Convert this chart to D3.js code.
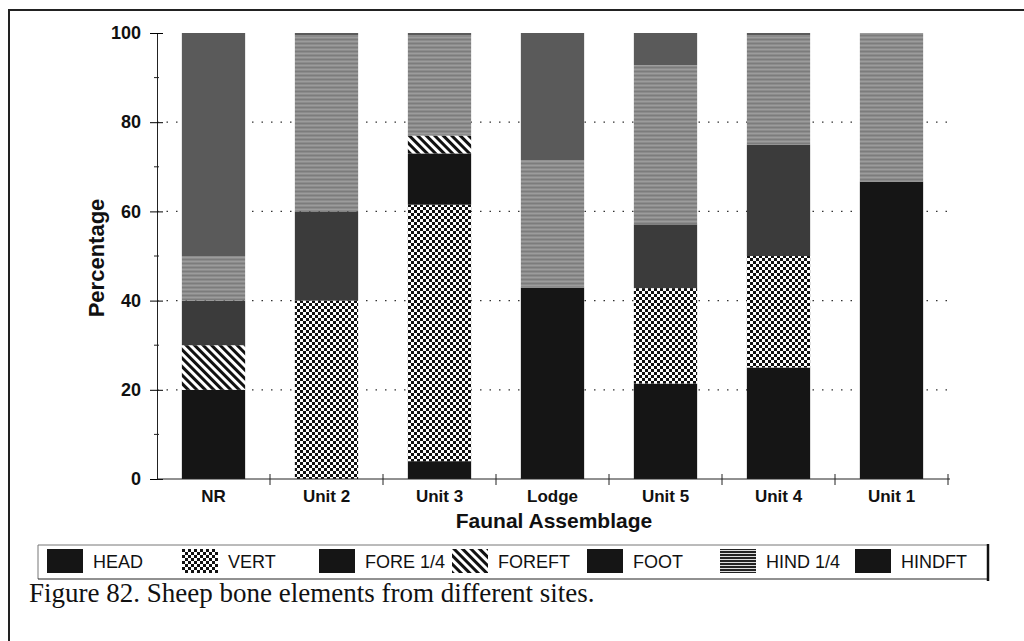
<!DOCTYPE html>
<html>
<head>
<meta charset="utf-8">
<script src="https://cdn.jsdelivr.net/npm/d3@7"></script>
<style>
  body { margin: 0; background: #fff; }
  svg { display: block; }
  .tick text { font-family: "Liberation Sans", Arial, sans-serif; }
</style>
</head>
<body>
<svg id="chart" width="1024" height="641"></svg>
<script>
// site order as on the x axis
var sites = ["NR", "Unit 2", "Unit 3", "Lodge", "Unit 5", "Unit 4", "Unit 1"];
var elements = ["HEAD", "VERT", "FORE 1/4", "FOREFT", "FOOT", "HIND 1/4", "HINDFT"];

// percentages per element, one value per site
var head   = [20,   0,   4,    42.9, 21.4, 25,   66.7];
var vert   = [0,    40,  57.5, 0,    21.4, 25,   0];
var fore   = [0,    0,   11.5, 0,    0,    0,    0];
var foreft = [10,   0,   4,    0,    0,    0,    0];
var foot   = [10,   20,  0,    0,    14.3, 25,   0];
var hind   = [10,   39.5, 22.5, 28.6, 35.7, 24.5, 33.3];
var hindft = [50,   0.5, 0.5,  28.5, 7.2,  0.5,  0];

var yTicks = [0, 20, 40, 60, 80, 100];
var yMinor = [10, 30, 50, 70, 90];
var gridTicks = [20, 40, 60, 80];

var series = [head, vert, fore, foreft, foot, hind, hindft];
var rows = sites.map(function(s, i) {
  var r = { site: s };
  elements.forEach(function(e, j) { r[e] = series[j][i]; });
  return r;
});

var svg = d3.select("#chart");
var defs = svg.append("defs");

// checker for VERT
var chk = defs.append("pattern").attr("id", "chk")
  .attr("patternUnits", "userSpaceOnUse").attr("width", 6).attr("height", 6);
chk.append("rect").attr("width", 6).attr("height", 6).attr("fill", "#fff");
chk.append("rect").attr("width", 3).attr("height", 3).attr("fill", "#111");
chk.append("rect").attr("x", 3).attr("y", 3).attr("width", 3).attr("height", 3).attr("fill", "#111");

// diagonal hatch for FOREFT
var hat = defs.append("pattern").attr("id", "hatch")
  .attr("patternUnits", "userSpaceOnUse").attr("width", 6).attr("height", 6)
  .attr("patternTransform", "rotate(-45)");
hat.append("rect").attr("width", 6).attr("height", 6).attr("fill", "#fff");
hat.append("rect").attr("width", 3).attr("height", 6).attr("fill", "#111");

// horizontal lines for HIND 1/4
var hl = defs.append("pattern").attr("id", "hlines")
  .attr("patternUnits", "userSpaceOnUse").attr("width", 8).attr("height", 4);
hl.append("rect").attr("width", 8).attr("height", 4).attr("fill", "#8c8c8c");
hl.append("rect").attr("y", 1).attr("width", 8).attr("height", 1).attr("fill", "#9c9c9c");
hl.append("rect").attr("y", 3).attr("width", 8).attr("height", 1).attr("fill", "#7c7c7c");

// legend swatch version of HIND 1/4
var hl2 = defs.append("pattern").attr("id", "hlines2")
  .attr("patternUnits", "userSpaceOnUse").attr("width", 8).attr("height", 3);
hl2.append("rect").attr("width", 8).attr("height", 3).attr("fill", "#222");
hl2.append("rect").attr("y", 1).attr("width", 8).attr("height", 1).attr("fill", "#ddd");

var fills = {
  "HEAD": "#151515", "VERT": "url(#chk)", "FORE 1/4": "#151515", "FOREFT": "url(#hatch)",
  "FOOT": "#3b3b3b", "HIND 1/4": "url(#hlines)", "HINDFT": "#5a5a5a"
};
var legendFills = {
  "HEAD": "#151515", "VERT": "url(#chk)", "FORE 1/4": "#151515", "FOREFT": "url(#hatch)",
  "FOOT": "#151515", "HIND 1/4": "url(#hlines2)", "HINDFT": "#151515"
};

var x = d3.scaleBand().domain(sites).range([157, 948])
  .paddingInner(0.44).paddingOuter(0.22);
var y = d3.scaleLinear().domain([0, 100]).range([479, 33]);

// figure frame
svg.append("path").attr("d", "M9,641V10H1024")
  .attr("fill", "none").attr("stroke", "#222").attr("stroke-width", 2);

// dotted grid
svg.append("g").selectAll("line").data(gridTicks).enter().append("line")
  .attr("x1", 157).attr("x2", 948)
  .attr("y1", function(d) { return y(d); }).attr("y2", function(d) { return y(d); })
  .attr("stroke", "#333").attr("stroke-width", 1.2).attr("stroke-dasharray", "1.5,8");

// stacked bars
var stacked = d3.stack().keys(elements)(rows);
svg.append("g").selectAll("g").data(stacked).enter().append("g")
  .attr("fill", function(d) { return fills[d.key]; })
  .selectAll("rect").data(function(d) { return d; }).enter().append("rect")
  .attr("x", function(d) { return x(d.data.site); })
  .attr("width", x.bandwidth())
  .attr("y", function(d) { return y(d[1]); })
  .attr("height", function(d) { return y(d[0]) - y(d[1]); });

// y axis
var yAxis = svg.append("g").attr("transform", "translate(157,0)")
  .call(d3.axisLeft(y).tickValues(yTicks).tickSize(7).tickPadding(9));
yAxis.selectAll(".tick line").attr("x2", -7).attr("x1", 6);
yAxis.select(".domain").attr("stroke", "#222");
yAxis.selectAll(".tick text").attr("font-size", 18).attr("font-weight", "bold").attr("fill", "#111");
yAxis.selectAll(".minor").data(yMinor).enter().append("line")
  .attr("x1", -3).attr("x2", 2)
  .attr("y1", function(d) { return y(d); }).attr("y2", function(d) { return y(d); })
  .attr("stroke", "#222");

// x axis
var xAxis = svg.append("g").attr("transform", "translate(0,479)")
  .call(d3.axisBottom(x).tickSize(0).tickPadding(11));
xAxis.select(".domain").attr("d", "M157,0H950").attr("stroke", "#222");
xAxis.selectAll(".tick text").attr("font-size", 17).attr("font-weight", "bold").attr("fill", "#111");
var bounds = sites.map(function(s) { return x(s) + x.bandwidth() + x.step() * x.paddingInner() / 2; });
xAxis.selectAll(".sep").data(bounds).enter().append("line")
  .attr("x1", function(d) { return d; }).attr("x2", function(d) { return d; })
  .attr("y1", -5).attr("y2", 6).attr("stroke", "#222");

// axis titles
svg.append("text").attr("x", 554).attr("y", 528).attr("text-anchor", "middle")
  .attr("font-family", "Liberation Sans, Arial, sans-serif").attr("font-weight", "bold")
  .attr("font-size", 21).attr("fill", "#111").text("Faunal Assemblage");
svg.append("text").attr("transform", "translate(104,258) rotate(-90)").attr("text-anchor", "middle")
  .attr("font-family", "Liberation Sans, Arial, sans-serif").attr("font-weight", "bold")
  .attr("font-size", 22).attr("fill", "#111").text("Percentage");

// legend
var legend = svg.append("g");
legend.append("path").attr("d", "M38,579V545H987").attr("fill", "none").attr("stroke", "#777").attr("stroke-width", 1);
legend.append("line").attr("x1", 38).attr("x2", 987).attr("y1", 579).attr("y2", 579).attr("stroke", "#222");
legend.append("line").attr("x1", 988).attr("x2", 988).attr("y1", 544).attr("y2", 581).attr("stroke", "#111").attr("stroke-width", 2.5);
var legX = [47, 182, 319, 452, 587, 720, 855];
var item = legend.selectAll(".item").data(elements).enter().append("g")
  .attr("transform", function(d, i) { return "translate(" + legX[i] + ",549)"; });
item.append("rect").attr("width", 36).attr("height", 24)
  .attr("fill", function(d) { return legendFills[d]; });
item.append("text").attr("x", 46).attr("y", 19)
  .attr("font-family", "Liberation Sans, Arial, sans-serif").attr("font-size", 18).attr("fill", "#111")
  .text(function(d) { return d; });

// caption
svg.append("text").attr("x", 29).attr("y", 602)
  .attr("font-family", "Liberation Serif, Times New Roman, serif").attr("font-size", 27)
  .attr("fill", "#111")
  .text("Figure 82. Sheep bone elements from different sites.");
</script>
</body>
</html>
